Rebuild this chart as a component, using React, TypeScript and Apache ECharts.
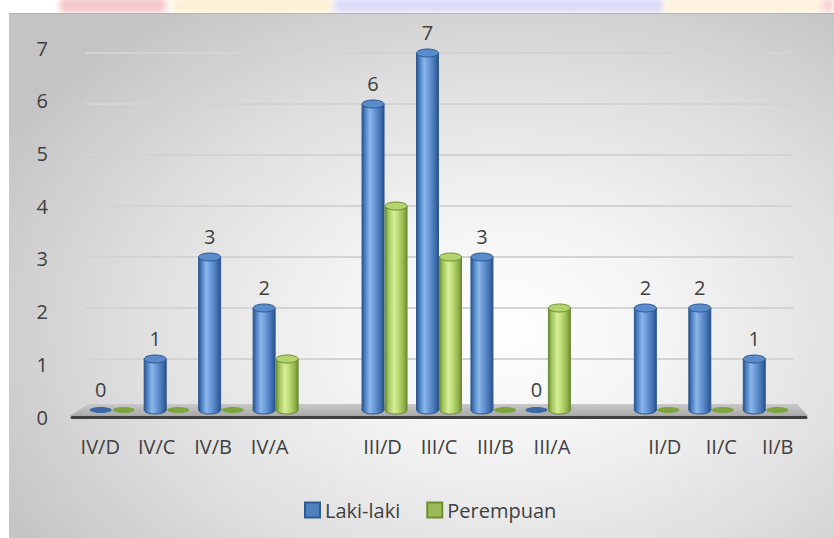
import React, { useEffect, useRef } from "react";
import * as echarts from "echarts";

// ---- data ----
const categories = ["IV/D", "IV/C", "IV/B", "IV/A", "", "III/D", "III/C", "III/B", "III/A", "", "II/D", "II/C", "II/B"];
const lakiLaki = [0, 1, 3, 2, null, 6, 7, 3, 0, null, 2, 2, 1];
const perempuan = [0, 0, 0, 1, null, 4, 3, 0, 2, null, 0, 0, 0];
const seriesNames = ["Laki-laki", "Perempuan"];
const yMin = 0;
const yMax = 7;
const yInterval = 1;

// ---- layout ----
const W = 834;
const H = 538;
const FONT = "'Open Sans'";
const FS = 20;
const TEXT = "#404040";
const barGrid = { left: 85, right: 41, top: 53, bottom: 128 };
const frontGrid = { left: 72, right: 28, top: 48, bottom: 121 };
const BAR_W = 22;

const blueStyle = {
  body: [
    [0, "#2b5288"], [0.15, "#4f83c6"], [0.35, "#8cb6ea"], [0.55, "#6b9bd9"], [0.85, "#3f6eae"], [1, "#2a4f84"],
  ],
  cap: "#5a8bcb",
  edge: "#2f5a92",
  flat: "#3c68a3",
  legend: "#4f81bd",
};
const greenStyle = {
  body: [
    [0, "#6a8a2c"], [0.15, "#a2c45c"], [0.4, "#d6ef97"], [0.6, "#bcdc74"], [0.88, "#8cad46"], [1, "#6a8830"],
  ],
  cap: "#b3d46c",
  edge: "#6e8e33",
  flat: "#7ea43f",
  legend: "#9bbb59",
};

function makeRender(style: any, offset: number, withLabel: boolean) {
  return (params: any, api: any) => {
    const v = api.value(1);
    if (v === null || v === undefined || isNaN(v)) return null;
    const idx = api.value(0);
    const top = api.coord([idx, v]);
    const base = api.coord([idx, 0]);
    const cx = top[0] + offset;
    const rx = BAR_W / 2;
    const ry = 4;
    const children: any[] = [];
    if (v > 0) {
      const grad = new echarts.graphic.LinearGradient(
        0, 0, 1, 0,
        style.body.map((s: any) => ({ offset: s[0], color: s[1] }))
      );
      children.push({
        type: "ellipse",
        shape: { cx, cy: base[1], rx, ry },
        style: { fill: grad, stroke: style.edge, lineWidth: 1 },
      });
      children.push({
        type: "rect",
        shape: { x: cx - rx, y: top[1], width: BAR_W, height: base[1] - top[1] },
        style: { fill: grad, stroke: null },
      });
      children.push({
        type: "line",
        shape: { x1: cx - rx, y1: top[1], x2: cx - rx, y2: base[1] },
        style: { stroke: style.edge, lineWidth: 1 },
      });
      children.push({
        type: "line",
        shape: { x1: cx + rx, y1: top[1], x2: cx + rx, y2: base[1] },
        style: { stroke: style.edge, lineWidth: 1 },
      });
      children.push({
        type: "ellipse",
        shape: { cx, cy: top[1], rx, ry },
        style: { fill: style.cap, stroke: style.edge, lineWidth: 1 },
      });
    } else {
      children.push({
        type: "ellipse",
        shape: { cx, cy: base[1], rx, ry: 3 },
        style: { fill: style.flat },
      });
    }
    if (withLabel) {
      children.push({
        type: "text",
        x: cx,
        y: top[1] - 11,
        style: {
          text: String(v),
          fill: TEXT,
          font: `${FS}px ${FONT}`,
          align: "center",
          verticalAlign: "bottom",
        },
      });
    }
    return { type: "group", children };
  };
}

export default function App() {
  const ref = useRef<HTMLDivElement>(null);

  useEffect(() => {
    if (!ref.current) return;
    const chart = echarts.init(ref.current, undefined, { renderer: "svg" });

    const backY = H - barGrid.bottom - 6;
    const frontY = H - frontGrid.bottom - 1;

    chart.setOption({
      animation: false,
      backgroundColor: "transparent",
      textStyle: { fontFamily: FONT, color: TEXT },
      grid: [
        { ...barGrid, containLabel: false },
        { ...frontGrid, containLabel: false },
      ],
      xAxis: [
        {
          gridIndex: 0,
          type: "category",
          data: categories,
          axisLine: { show: false },
          axisTick: { show: false },
          axisLabel: { show: false },
          splitLine: { show: false },
        },
        {
          gridIndex: 1,
          type: "category",
          data: categories,
          axisLine: { show: true, lineStyle: { color: "#3f3f3f", width: 3 } },
          axisTick: { show: false },
          axisLabel: { color: TEXT, fontSize: FS, fontFamily: FONT, margin: 19, interval: 0 },
          splitLine: { show: false },
        },
      ],
      yAxis: [
        {
          gridIndex: 0,
          type: "value",
          min: yMin,
          max: yMax,
          interval: yInterval,
          axisLine: { show: false },
          axisTick: { show: false },
          axisLabel: { show: false },
          splitLine: { show: true, lineStyle: { color: "#d3d3d3", width: 2 } },
        },
        {
          gridIndex: 1,
          type: "value",
          min: yMin,
          max: yMax,
          interval: yInterval,
          axisLine: { show: false },
          axisTick: { show: false },
          axisLabel: { color: TEXT, fontSize: FS, fontFamily: FONT, margin: 24 },
          splitLine: { show: false },
        },
      ],
      legend: {
        data: seriesNames,
        left: 299,
        top: 495,
        icon: "rect",
        itemWidth: 15,
        itemHeight: 15,
        itemGap: 26,
        textStyle: { color: TEXT, fontSize: FS, fontFamily: FONT },
      },
      graphic: [
        {
          type: "polygon",
          z: 1,
          silent: true,
          shape: {
            points: [
              [barGrid.left + 3, backY],
              [W - barGrid.right + 4, backY],
              [W - frontGrid.right + 2, frontY],
              [frontGrid.left - 2, frontY],
            ],
          },
          style: {
            fill: new echarts.graphic.LinearGradient(0, 0, 0, 1, [
              { offset: 0, color: "#c9c9c9" },
              { offset: 1, color: "#a9a9a9" },
            ]),
          },
        },
      ],
      series: [
        {
          name: seriesNames[0],
          type: "custom",
          xAxisIndex: 0,
          yAxisIndex: 0,
          z: 3,
          itemStyle: { color: blueStyle.legend, borderColor: blueStyle.edge, borderWidth: 1 },
          renderItem: makeRender(blueStyle, -BAR_W / 2 - 0.5, true),
          data: lakiLaki.map((v, i) => [i, v]),
        },
        {
          name: seriesNames[1],
          type: "custom",
          xAxisIndex: 0,
          yAxisIndex: 0,
          z: 3,
          itemStyle: { color: greenStyle.legend, borderColor: greenStyle.edge, borderWidth: 1 },
          renderItem: makeRender(greenStyle, BAR_W / 2 + 0.5, false),
          data: perempuan.map((v, i) => [i, v]),
        },
      ],
    });

    return () => chart.dispose();
  }, []);

  return (
    <div style={{ position: "absolute", left: 0, top: 0, width: W, height: H, background: "#ffffff", overflow: "hidden" }}>
      {/* faint banner remnants above the chart */}
      <div style={{ position: "absolute", left: 60, top: -2, width: 106, height: 15, background: "#f4c8cb", filter: "blur(3px)" }} />
      <div style={{ position: "absolute", left: 172, top: -2, width: 160, height: 15, background: "#fdf0d4", filter: "blur(3px)" }} />
      <div style={{ position: "absolute", left: 334, top: -2, width: 330, height: 15, background: "#dcdbf8", filter: "blur(3px)" }} />
      <div style={{ position: "absolute", left: 664, top: -2, width: 160, height: 15, background: "#fdf2dc", filter: "blur(3px)" }} />
      <div style={{ position: "absolute", left: 822, top: -2, width: 12, height: 15, background: "#f6d4d4", filter: "blur(3px)" }} />
      {/* chart area background */}
      <div
        style={{
          position: "absolute",
          left: 9,
          top: 13,
          width: W - 9,
          height: H - 13,
          borderTop: "1px solid #b4b4b4",
          background:
            "radial-gradient(ellipse 70% 75% at 60% 60%, #ffffff 0%, #f3f3f3 30%, #dedede 65%, #c4c4c4 100%)",
        }}
      />
      <div ref={ref} style={{ position: "absolute", left: 0, top: 0, width: W, height: H }} />
    </div>
  );
}
